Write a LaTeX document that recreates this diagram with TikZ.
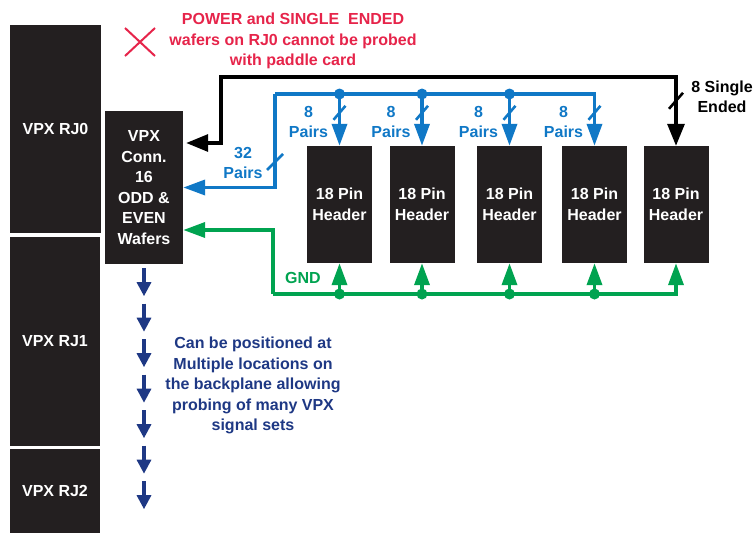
\documentclass[tikz,border=0pt]{standalone}
\usepackage{fontspec}
\setmainfont{Liberation Sans}
\usetikzlibrary{positioning,calc,arrows.meta}
\definecolor{blkfill}{RGB}{35,31,32}
\definecolor{pblue}{RGB}{16,120,198}
\definecolor{pgreen}{RGB}{0,163,80}
\definecolor{pred}{RGB}{230,36,74}
\definecolor{pnavy}{RGB}{30,56,132}
\newcommand\lblfont{\fontsize{16}{20.6}\selectfont\bfseries}
\tikzset{
  blk/.style       = {fill=blkfill, text=white, font=\lblfont, align=center,
                      inner sep=0pt},
  hdr/.style       = {blk, minimum width=65pt, minimum height=117pt},
  bwire/.style     = {pblue, line width=3.6pt, >={Triangle[length=22pt,width=15pt]}},
  gwire/.style     = {pgreen, line width=3.6pt, >={Triangle[length=22pt,width=15pt]}},
  kwire/.style     = {black, line width=3.2pt, >={Triangle[length=22pt,width=17pt]}},
  nwire/.style     = {pnavy, line width=3.2pt, ->, >={Triangle[length=14pt,width=14pt]}},
  slashmark/.style = {line width=2.6pt},
  bdot/.style      = {circle, fill=pblue, inner sep=0pt, minimum size=11pt},
  gdot/.style      = {circle, fill=pgreen, inner sep=0pt, minimum size=11pt},
  lbl/.style       = {font=\lblfont, align=center, inner sep=0pt},
}

\begin{document}
\begin{tikzpicture}[x=1pt,y=-1pt]
  \useasboundingbox (0,0) rectangle (755,533);
  % backplane blocks and connector
  \node[blk, minimum width=91pt, minimum height=208pt] (rj0) at (55.5,129) {VPX RJ0};
  \node[blk, minimum width=90pt, minimum height=209pt] (rj1) at (55,341.5) {VPX RJ1};
  \node[blk, minimum width=90pt, minimum height=84pt] (rj2) at (55,491) {VPX RJ2};
  \node[blk, minimum width=78pt, minimum height=153pt] (conn) at (144,187.5)
    {VPX\\Conn.\\16\\ODD \&\\EVEN\\Wafers};
  % pin headers
  \node[hdr] (h1) at (339.5,204.5) {18 Pin\\Header};
  \node[hdr] (h2) at (422,204.5) {18 Pin\\Header};
  \node[hdr] (h3) at (509.5,204.5) {18 Pin\\Header};
  \node[hdr] (h4) at (594.5,204.5) {18 Pin\\Header};
  \node[hdr] (h5) at (676,204.5) {18 Pin\\Header};
  % pairs bus
  \coordinate (bt) at (275,94);
  \draw[bwire,->] (bt) -| (h4.north);
  \draw[bwire,->] (bt) |- (conn.east);
  \draw[bwire,->] (h1.north |- bt) -- (h1.north);
  \draw[bwire,->] (h2.north |- bt) -- (h2.north);
  \draw[bwire,->] (h3.north |- bt) -- (h3.north);
  \node[bdot] (bd1) at (h1.north |- bt) {};
  \node[bdot] (bd2) at (h2.north |- bt) {};
  \node[bdot] (bd3) at (h3.north |- bt) {};
  \draw[bwire,slashmark] ($(h1.north)+(-6,-26)$) -- ($(h1.north)+(6,-40)$);
  \draw[bwire,slashmark] ($(h2.north)+(-6,-26)$) -- ($(h2.north)+(6,-40)$);
  \draw[bwire,slashmark] ($(h3.north)+(-6,-26)$) -- ($(h3.north)+(6,-40)$);
  \draw[bwire,slashmark] ($(h4.north)+(-6,-26)$) -- ($(h4.north)+(6,-40)$);
  \draw[bwire,slashmark] ($(bt)+(-8,76)$) -- ($(bt)+(8,60)$);
  \node[lbl, text=pblue] (p1) at ($(h1.north)+(-31,-24)$) {8\\Pairs};
  \node[lbl, text=pblue] (p2) at ($(h2.north)+(-31,-24)$) {8\\Pairs};
  \node[lbl, text=pblue] (p3) at ($(h3.north)+(-31,-24)$) {8\\Pairs};
  \node[lbl, text=pblue] (p4) at ($(h4.north)+(-31,-24)$) {8\\Pairs};
  \node[lbl, text=pblue] (p32) at ($(bt)+(-32,69)$) {32\\Pairs};
  % single ended line
  \coordinate (kin) at ($(conn.east)+(3,-44.5)$);
  \coordinate (kt) at (221,77);
  \draw[kwire,<->] (kin) -| (kt) -| (h5.north);
  \draw[kwire,slashmark] ($(h5.north)+(-7,-37)$) -- ($(h5.north)+(7,-53)$);
  \node[lbl] (se) at ($(h5.north)+(46,-49)$) {8 Single\\Ended};
  % ground bus
  \coordinate (gb) at (273,294);
  \coordinate (gin) at ($(conn.east)+(0,42.5)$);
  \draw[gwire,->] (gb) -| (h5.south);
  \draw[gwire,->] (gb) |- (gin);
  \draw[gwire,->] (h1.south |- gb) -- (h1.south);
  \draw[gwire,->] (h2.south |- gb) -- (h2.south);
  \draw[gwire,->] (h3.south |- gb) -- (h3.south);
  \draw[gwire,->] (h4.south |- gb) -- (h4.south);
  \node[gdot] (gd1) at (h1.south |- gb) {};
  \node[gdot] (gd2) at (h2.south |- gb) {};
  \node[gdot] (gd3) at (h3.south |- gb) {};
  \node[gdot] (gd4) at (h4.south |- gb) {};
  \node[lbl, text=pgreen] (gnd) at ($(gb)+(30,-16)$) {GND};
  % notes
  \coordinate (xm) at (140,42);
  \draw[pred, line width=2pt] ($(xm)+(-15,-14)$) -- ($(xm)+(15,14)$)
    ($(xm)+(-15,14)$) -- ($(xm)+(15,-14)$);
  \node[lbl, text=pred] (note) at (293,41)
    {POWER and SINGLE\ \ ENDED\\wafers on RJ0 cannot be probed\\with paddle card};
  \foreach \k in {0,...,6}
    \draw[nwire] ($(conn.south)+(0,4+35.5*\k)$) -- ++(0,28);
  \node[lbl, text=pnavy] (pos) at (253,385.5)
    {Can be positioned at\\Multiple locations on\\the backplane allowing\\probing of many VPX\\signal sets};
\end{tikzpicture}
\end{document}
